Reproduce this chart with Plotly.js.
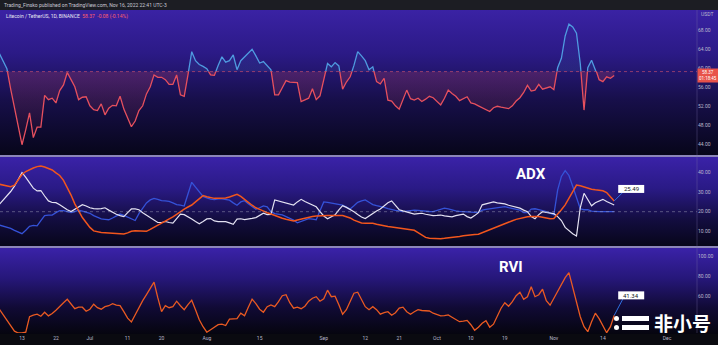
<!DOCTYPE html>
<html><head><meta charset="utf-8">
<script src="https://cdn.plot.ly/plotly-3.0.1.min.js"></script>
<style>
html,body{margin:0;padding:0;background:#08070f;}
#wrap{position:relative;width:718px;height:345px;overflow:hidden;background:#07060d;}
.bg{position:absolute;left:0;width:718px;}
#chart{position:absolute;left:0;top:0;width:718px;height:345px;}
</style></head><body>
<div id="wrap">
<div class="bg" style="top:0;height:10px;background:#1c1d23"></div>
<div class="bg" style="top:10px;height:145px;background:linear-gradient(to bottom,#3a22a4 0%,#2b1a86 30%,#170f4a 62%,#07061a 100%)"></div>
<div class="bg" style="top:155px;height:2px;background:#8c86b8"></div>
<div class="bg" style="top:157px;height:89px;background:linear-gradient(to bottom,#3a22a8 0%,#2a1a86 35%,#130d40 70%,#07061a 100%)"></div>
<div class="bg" style="top:246px;height:2px;background:#8c86b8"></div>
<div class="bg" style="top:248px;height:86px;background:linear-gradient(to bottom,#3a22a8 0%,#26177a 35%,#100a34 70%,#06050f 100%)"></div>
<div class="bg" style="top:334px;height:11px;background:#0a0a10"></div>
<div id="chart"></div>
</div>
<script>
// ---------------- data ----------------
const startDate = [2022, 5, 7]; // 7 Jun 2022, daily bars
const price = [63.0,61.5,59.8,55.5,51.5,47.5,43.8,47.0,50.5,45.3,
 47.5,47.5,54.2,53.3,53.6,52.6,55.2,56.4,59.0,57.5,
 56.0,53.3,53.8,53.9,52.0,51.2,51.0,52.4,50.1,51.5,
 52.1,52.0,54.0,51.3,49.5,47.6,48.8,51.0,52.0,54.5,
 56.0,58.5,58.0,58.0,57.5,56.5,56.5,58.5,54.3,54.0,
 58.5,63.4,61.5,60.7,60.3,59.8,58.5,58.4,60.5,62.3,
 61.2,61.5,62.7,59.6,61.5,62.3,63.0,63.9,62.5,61.0,
 61.3,60.5,59.6,54.3,54.3,55.8,57.3,57.0,56.9,56.9,
 52.9,53.3,53.6,55.6,53.3,54.1,57.5,60.9,60.2,61.1,
 60.4,55.5,57.0,58.1,60.5,63.4,62.5,61.5,59.6,60.2,
 57.1,56.6,57.8,53.2,53.0,52.0,51.3,53.5,55.3,53.5,
 53.2,53.6,52.9,53.4,54.0,53.7,53.0,52.2,53.6,55.3,
 54.6,54.0,53.1,53.5,53.9,52.6,52.4,52.0,51.6,51.3,
 50.8,51.6,51.9,51.7,51.5,51.4,52.0,53.0,53.7,54.8,
 56.3,55.1,55.3,56.5,55.5,55.8,56.0,55.4,60.0,62.0,
 66.7,69.2,68.6,67.3,60.9,51.1,60.0,61.6,59.9,57.5,
 57.1,58.1,57.8,58.37];
const adx = [34.0,33.5,33.0,32.8,33.5,36.0,39.0,40.5,41.5,42.3,
 43.0,43.3,42.8,42.0,41.3,39.8,38.5,36.0,32.5,28.5,
 24.0,20.5,17.0,14.5,12.0,10.2,9.6,9.4,9.3,9.2,
 9.0,8.8,8.6,8.6,9.2,10.0,10.3,10.1,10.0,10.0,
 11.0,12.0,13.0,14.0,15.2,16.3,17.4,18.6,20.2,21.3,
 22.4,23.4,25.0,26.6,28.2,27.6,27.0,26.8,26.8,26.8,
 27.0,27.5,28.3,28.9,27.8,26.5,24.8,23.3,22.0,21.2,
 20.2,19.5,18.8,18.0,17.3,16.7,16.2,15.6,15.3,15.8,
 16.3,16.8,17.2,17.5,17.8,18.0,18.1,18.1,18.0,18.0,
 18.0,18.0,17.4,16.8,15.7,14.8,14.2,14.1,14.1,14.1,
 13.6,13.1,12.7,12.4,12.2,11.9,11.8,11.5,11.2,10.9,
 10.5,9.3,8.0,6.9,6.5,6.3,6.1,6.2,6.4,6.6,
 6.7,7.0,7.4,7.7,8.0,8.2,8.4,8.5,9.3,10.2,
 10.9,11.5,12.3,13.0,13.8,14.6,15.4,16.1,16.6,17.1,
 17.4,17.5,17.6,17.6,17.2,16.8,16.4,16.5,18.5,21.0,
 23.5,27.0,30.5,33.6,33.2,32.6,32.0,31.5,31.2,31.0,
 30.7,29.8,27.5,25.49];
const minusDI = [23.8,26.0,28.0,30.3,33.0,36.5,40.0,37.5,34.5,32.0,
 30.6,30.8,28.0,25.5,24.7,24.6,23.5,22.2,21.0,20.1,
 21.3,22.6,23.6,22.9,22.0,21.6,21.4,21.6,22.0,20.8,
 19.6,18.7,18.0,17.5,19.5,21.4,21.4,21.0,19.5,18.2,
 17.0,15.8,14.5,14.5,15.0,14.5,14.2,16.5,18.8,18.5,
 17.5,16.3,15.0,13.8,15.0,16.3,16.5,15.3,14.9,14.9,
 14.9,14.3,13.6,16.2,16.4,16.0,16.2,16.6,17.0,18.1,
 19.2,18.5,18.6,26.0,25.5,25.1,24.5,23.8,23.4,25.0,
 26.3,25.2,24.2,23.3,22.5,20.0,17.8,16.4,17.3,18.4,
 20.9,23.1,22.2,21.2,20.0,18.6,17.3,16.5,17.8,19.4,
 20.4,21.4,23.0,24.6,25.5,23.5,21.0,20.4,19.8,19.2,
 18.8,19.0,19.2,18.7,18.3,18.0,18.1,18.3,17.9,17.6,
 17.4,18.0,18.5,18.8,17.5,16.8,18.0,19.5,23.5,24.0,
 24.5,25.0,24.5,24.2,24.0,23.3,22.8,22.6,21.8,20.8,
 20.0,17.5,16.4,18.5,20.0,19.6,19.3,19.0,17.5,15.5,
 12.0,10.3,8.8,7.6,22.0,29.4,26.0,23.0,24.6,25.6,
 26.3,25.2,24.2,23.4];
const plusDI = [13.2,12.6,12.0,11.5,10.5,9.5,8.8,10.5,12.5,13.0,
 12.8,15.5,18.0,18.3,18.3,19.5,20.5,20.5,20.0,19.5,
 20.0,20.8,20.3,19.8,19.2,18.0,17.0,16.3,16.1,15.9,
 16.8,17.8,18.8,18.1,17.3,16.5,15.5,19.0,22.0,24.5,
 26.0,26.8,26.3,25.7,25.5,25.3,24.5,23.6,23.3,22.9,
 29.0,35.0,32.5,30.0,27.8,27.1,26.4,26.2,26.6,26.5,
 26.2,25.9,24.5,23.3,25.0,25.6,24.0,22.5,21.2,22.0,
 23.0,22.5,20.0,19.0,18.7,18.4,17.5,16.6,15.7,14.3,
 15.0,16.0,16.5,16.2,15.9,20.5,25.0,24.8,24.4,24.0,
 23.7,23.3,22.4,21.4,23.0,24.8,25.5,26.0,24.8,23.6,
 23.1,22.8,22.2,21.6,21.0,20.7,20.4,20.0,20.3,20.6,
 20.8,20.7,20.4,20.3,20.1,20.0,20.6,21.2,21.8,21.4,
 20.8,20.4,20.2,20.0,19.8,19.7,19.7,19.7,20.8,21.2,
 21.5,21.7,22.0,22.3,22.6,22.1,21.6,21.1,20.8,19.5,
 19.5,21.3,21.5,21.0,20.6,20.0,19.3,18.4,31.0,38.0,
 41.0,38.5,33.0,27.0,21.5,21.0,21.0,20.3,20.0,20.0,
 20.0,20.0,20.0,20.0];
const rvi = [47.5,42,36.5,31,25.5,23.7,23.7,24.5,40,41.5,
 42.5,40.5,44.5,40.8,43.2,46.5,50.5,54,57.4,52.5,
 48,49.5,49.5,45.5,47.5,52.5,49,47.5,50,51,
 53,51.5,51,45,38.5,34.7,42,49.5,56,62,
 68,74.5,59,45,51,49,50,55.5,51,47,
 52,56.5,47,37,30,24.5,27,29.5,32,32.5,
 31.2,37.5,37.5,38,43.5,41,49.5,57.5,53,47.5,
 44.5,50,51.7,50,55,61,62,54,48.5,49.5,
 48,50.5,55.5,58.5,60,55.5,58,66.5,60,60.5,
 52,42.5,47,56,63.5,64.5,56.5,50,47,50,
 47,42.5,44,45,41.5,44,48.5,49.5,45,42.5,
 45,47,46.2,45.7,45.7,43.5,41.8,40.8,41,41.8,
 39.5,37,35,35.5,36.3,32,26.5,29.5,33.5,36,
 29.5,32.5,40,48.5,54,50.5,55,61,64.5,57.5,
 60,70,60,62,67.5,56,51.5,58,65,72,
 79,84,70,55,40,30,25,35,43.5,38,
 31,24,30,41.34];
const xTickDates = ['2022-06-13','2022-06-22','2022-07-01','2022-07-11','2022-07-20','2022-08-01','2022-08-15','2022-09-01','2022-09-12','2022-09-21','2022-10-01','2022-10-10','2022-10-19','2022-11-01','2022-11-14','2022-12-01'];
const xTickText = ['13','22','Jul','11','20','Aug','15','Sep','12','21','Oct','10','19','Nov','14','Dec'];
const priceTicks = [44,48,52,56,60,64,68];
const adxTicks = [10,20,30,40];
const rviTicks = [60,80,100];
const baseLevel = 59.2;
const lastPrice = 58.37, lastChange = '-0.08 (-0.14%)';
const lastAdx = 25.49, lastRvi = 41.34;
const headerText = 'Trading_Finsko published on TradingView.com, Nov 16, 2022 22:41 UTC-3';
const symbolText = 'Litecoin / TetherUS, 1D, BINANCE';

// ---------------- geometry ----------------
const W = 718, H = 345, PLOT_R = 697;
const n = Math.min(price.length, adx.length, plusDI.length, minusDI.length, rvi.length);
const dates = [];
for (let i = 0; i < n; i++) {
  const t = new Date(Date.UTC(startDate[0], startDate[1], startDate[2] + i));
  dates.push(t.toISOString().slice(0, 10));
}
const dom = (top, bottom) => [1 - bottom / H, 1 - top / H];
const P1 = [10, 155], P2 = [158, 246], P3 = [249, 333];
const pRange = [41.64, 72.17], aRange = [2.5, 47.4], rRange = [23.7, 107.7];
const baseY = P1[0] + (pRange[1] - baseLevel) / (pRange[1] - pRange[0]) * (P1[1] - P1[0]);
const base = dates.map(() => baseLevel);
const pp = (x, y) => ({x: x / W, y: 1 - y / H});

const FONT = 'Roboto, "Liberation Sans", sans-serif';
const tickFont = {family: FONT, size: 5, color: '#b9b8cc'};
const yCommon = {side: 'right', anchor: 'x', showgrid: false, zeroline: false, showline: false,
  ticks: '', tickfont: tickFont, tickformat: '.2f', fixedrange: true};

const RED = '#e6505e', BLUE = '#4f9be0';
const traces = [
  {x: dates, y: base, xaxis: 'x', yaxis: 'y5', mode: 'lines', line: {width: 0}, hoverinfo: 'skip'},
  {x: dates, y: price, xaxis: 'x', yaxis: 'y5', mode: 'lines', line: {color: RED, width: 1.3},
   fill: 'tonexty', fillgradient: {type: 'vertical', colorscale: [[0, 'rgba(230,80,94,0.02)'], [1, 'rgba(230,80,94,0.32)']]}},
  {x: dates, y: base, xaxis: 'x', yaxis: 'y4', mode: 'lines', line: {width: 0}, hoverinfo: 'skip'},
  {x: dates, y: price, xaxis: 'x', yaxis: 'y4', mode: 'lines', line: {color: BLUE, width: 1.3},
   fill: 'tonexty', fillgradient: {type: 'vertical', colorscale: [[0, 'rgba(79,155,224,0.25)'], [1, 'rgba(79,155,224,0.02)']]}},
  {x: dates, y: plusDI, xaxis: 'x', yaxis: 'y2', mode: 'lines', line: {color: '#3552d8', width: 1.3}},
  {x: dates, y: minusDI, xaxis: 'x', yaxis: 'y2', mode: 'lines', line: {color: '#e4e2f2', width: 1.2}},
  {x: dates, y: adx, xaxis: 'x', yaxis: 'y2', mode: 'lines', line: {color: '#f2561d', width: 1.5}},
  {x: dates, y: rvi, xaxis: 'x', yaxis: 'y3', mode: 'lines', line: {color: '#ea5a22', width: 1.3}}
];

// callout: connector + white box drawn as pixel-sized shapes anchored to the last data point
function callout(yref, value, dx, dy) {
  const common = {xref: 'x', yref: yref, xsizemode: 'pixel', ysizemode: 'pixel',
    xanchor: dates[n - 1], yanchor: value};
  return [
    Object.assign({type: 'line', x0: 0, y0: 0, x1: dx - 8, y1: dy - 3,
      line: {color: '#2f6fe0', width: 1}}, common),
    Object.assign({type: 'rect', x0: dx - 13, x1: dx + 13, y0: dy - 4, y1: dy + 4,
      fillcolor: '#ffffff', line: {width: 0}}, common)
  ];
}
function calloutText(yref, value, dx, dy, label) {
  return {xref: 'x', yref: yref, x: dates[n - 1], y: value, xshift: dx, yshift: dy,
    xanchor: 'center', yanchor: 'middle', showarrow: false, text: label,
    font: {family: FONT, size: 6, color: '#131722'}};
}

const layout = {
  width: W, height: H, margin: {l: 0, r: 0, t: 0, b: 0},
  paper_bgcolor: 'rgba(0,0,0,0)', plot_bgcolor: 'rgba(0,0,0,0)',
  showlegend: false, hovermode: false,
  font: {family: FONT},
  xaxis: {domain: [0, PLOT_R / W], anchor: 'y3', type: 'date',
    range: ['2022-06-07 04:00', '2022-12-08 22:48'],
    tickvals: xTickDates, ticktext: xTickText, ticks: '', showgrid: false, zeroline: false,
    showline: false, tickfont: tickFont, ticklabelstandoff: 1, fixedrange: true},
  yaxis: Object.assign({}, yCommon, {domain: dom(P1[0], P1[1]), range: pRange, tickvals: priceTicks}),
  yaxis2: Object.assign({}, yCommon, {domain: dom(P2[0], P2[1]), range: aRange, tickvals: adxTicks}),
  yaxis3: Object.assign({}, yCommon, {domain: dom(P3[0], P3[1]), range: rRange, tickvals: rviTicks}),
  yaxis4: {anchor: 'x', domain: dom(P1[0], baseY), range: [baseLevel, pRange[1]], visible: false, fixedrange: true},
  yaxis5: {anchor: 'x', domain: dom(baseY, P1[1]), range: [pRange[0], baseLevel], visible: false, fixedrange: true},
  shapes: [
    {type: 'line', xref: 'paper', x0: 0, x1: PLOT_R / W, yref: 'y', y0: baseLevel, y1: baseLevel,
     line: {color: 'rgba(230,90,110,0.55)', width: 1, dash: 'dot'}},
    {type: 'line', xref: 'paper', x0: 0, x1: PLOT_R / W, yref: 'y2', y0: 20, y1: 20,
     line: {color: 'rgba(170,170,190,0.45)', width: 1, dash: 'dot'}},
    {type: 'line', xref: 'paper', x0: PLOT_R / W, x1: PLOT_R / W, yref: 'paper', y0: 1 - 333 / H, y1: 1 - 10 / H,
     line: {color: 'rgba(120,110,170,0.35)', width: 1}},
    // watermark logo
    {type: 'circle', xref: 'paper', yref: 'paper', x0: 614 / W, x1: 619 / W, y0: 1 - 321 / H, y1: 1 - 316 / H, fillcolor: '#ffffff', line: {width: 0}},
    {type: 'circle', xref: 'paper', yref: 'paper', x0: 614 / W, x1: 619 / W, y0: 1 - 330 / H, y1: 1 - 325 / H, fillcolor: '#ffffff', line: {width: 0}},
    {type: 'rect', xref: 'paper', yref: 'paper', x0: 622 / W, x1: 649 / W, y0: 1 - 321 / H, y1: 1 - 316 / H, fillcolor: '#ffffff', line: {width: 0}},
    {type: 'rect', xref: 'paper', yref: 'paper', x0: 622 / W, x1: 649 / W, y0: 1 - 330 / H, y1: 1 - 325 / H, fillcolor: '#ffffff', line: {width: 0}}
  ].concat(callout('y2', adx[n - 1], 17, 12), callout('y3', rvi[n - 1], 17, 20)),
  annotations: [
    Object.assign(pp(2, 5), {xref: 'paper', yref: 'paper', xanchor: 'left', yanchor: 'middle', showarrow: false,
      text: headerText, font: {family: FONT, size: 5, color: '#c9c9d4'}}),
    Object.assign(pp(4, 16), {xref: 'paper', yref: 'paper', xanchor: 'left', yanchor: 'middle', showarrow: false,
      text: symbolText + '  <span style="color:#ff5f6d">' + lastPrice.toFixed(2) + '  ' + lastChange + '</span>',
      font: {family: FONT, size: 5, color: '#e8e8f2'}}),
    Object.assign(pp(707, 14), {xref: 'paper', yref: 'paper', xanchor: 'center', yanchor: 'middle', showarrow: false,
      text: 'USDT', font: {family: FONT, size: 5, color: '#b9b8cc'}}),
    {xref: 'paper', yref: 'y', x: 708 / W, y: lastPrice, xanchor: 'center', yanchor: 'middle', showarrow: false,
      text: lastPrice.toFixed(2) + '<br>01:18:45', bgcolor: '#e8524a', borderpad: 1,
      font: {family: FONT, size: 4.5, color: '#ffffff'}},
    Object.assign(pp(531, 174), {xref: 'paper', yref: 'paper', xanchor: 'center', yanchor: 'middle', showarrow: false,
      text: '<b>ADX</b>', font: {family: FONT, size: 15, color: '#ffffff'}}),
    Object.assign(pp(511, 267), {xref: 'paper', yref: 'paper', xanchor: 'center', yanchor: 'middle', showarrow: false,
      text: '<b>RVI</b>', font: {family: FONT, size: 15, color: '#ffffff'}}),
    calloutText('y2', adx[n - 1], 17, 12, lastAdx.toFixed(2)),
    calloutText('y3', rvi[n - 1], 17, 20, lastRvi.toFixed(2)),
    Object.assign(pp(682, 322), {xref: 'paper', yref: 'paper', xanchor: 'center', yanchor: 'middle', showarrow: false,
      text: '<b>非小号</b>', font: {family: '"Noto Sans CJK SC", sans-serif', size: 19, color: '#ffffff'}})
  ]
};
Plotly.newPlot('chart', traces, layout, {staticPlot: true, displayModeBar: false});
</script>
</body></html>
